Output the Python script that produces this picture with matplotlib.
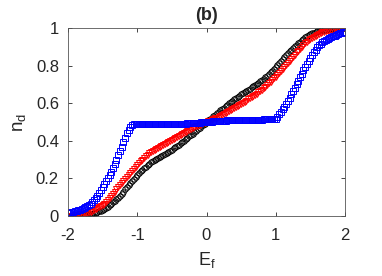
import numpy as np
import matplotlib
matplotlib.use("Agg")
import matplotlib.pyplot as plt

# x grid (E_f)
E_f = np.linspace(-2, 2, 161)

n_black = [
0.000,0.000,0.000,0.001,0.001,0.002,0.002,0.003,0.004,0.005,
0.006,0.008,0.009,0.011,0.013,0.016,0.018,0.022,0.025,0.029,
0.033,0.039,0.044,0.050,0.057,0.064,0.072,0.080,0.088,0.097,
0.108,0.119,0.130,0.142,0.154,0.165,0.175,0.186,0.197,0.208,
0.218,0.228,0.237,0.246,0.255,0.263,0.271,0.278,0.285,0.291,
0.296,0.302,0.307,0.312,0.318,0.323,0.328,0.334,0.340,0.347,
0.353,0.360,0.366,0.373,0.380,0.387,0.394,0.401,0.408,0.415,
0.423,0.430,0.438,0.446,0.453,0.461,0.469,0.477,0.484,0.492,
0.500,
0.508,0.516,0.523,0.531,0.539,0.547,0.554,0.562,0.570,0.577,
0.585,0.592,0.599,0.606,0.613,0.620,0.627,0.634,0.640,0.647,
0.653,0.660,0.666,0.672,0.678,0.684,0.691,0.697,0.703,0.710,
0.716,0.723,0.731,0.739,0.747,0.755,0.764,0.773,0.782,0.792,
0.802,0.813,0.824,0.835,0.845,0.856,0.866,0.876,0.885,0.894,
0.903,0.912,0.920,0.928,0.936,0.943,0.950,0.956,0.961,0.967,
0.971,0.975,0.978,0.982,0.984,0.987,0.989,0.991,0.992,0.994,
0.995,0.996,0.997,0.998,0.998,0.999,0.999,1.000,1.000,1.000,
]

n_red = [
0.000,0.001,0.001,0.002,0.003,0.004,0.006,0.008,0.010,0.012,
0.015,0.017,0.020,0.023,0.027,0.031,0.035,0.040,0.046,0.052,
0.058,0.065,0.074,0.083,0.094,0.106,0.118,0.130,0.141,0.153,
0.165,0.177,0.188,0.199,0.210,0.220,0.231,0.241,0.251,0.261,
0.271,0.281,0.290,0.299,0.308,0.317,0.325,0.333,0.341,0.347,
0.353,0.359,0.364,0.369,0.375,0.380,0.385,0.390,0.394,0.399,
0.403,0.408,0.414,0.419,0.425,0.431,0.437,0.442,0.448,0.453,
0.458,0.463,0.468,0.472,0.477,0.481,0.485,0.489,0.493,0.496,
0.500,
0.504,0.507,0.511,0.515,0.519,0.523,0.528,0.532,0.537,0.542,
0.547,0.552,0.558,0.563,0.569,0.575,0.581,0.586,0.592,0.598,
0.603,0.609,0.614,0.620,0.626,0.632,0.639,0.645,0.651,0.658,
0.665,0.672,0.680,0.688,0.696,0.705,0.714,0.723,0.732,0.742,
0.752,0.762,0.772,0.782,0.793,0.803,0.814,0.825,0.836,0.848,
0.859,0.870,0.880,0.890,0.900,0.910,0.919,0.927,0.935,0.942,
0.948,0.954,0.960,0.965,0.969,0.973,0.977,0.980,0.983,0.985,
0.988,0.990,0.992,0.994,0.996,0.997,0.998,0.999,0.999,1.000,
]

n_blue = [
0.015,0.017,0.019,0.021,0.024,0.027,0.030,0.033,0.036,0.041,
0.046,0.052,0.058,0.066,0.075,0.085,0.095,0.108,0.122,0.137,
0.152,0.168,0.184,0.200,0.216,0.236,0.257,0.278,0.300,0.322,
0.345,0.368,0.392,0.416,0.440,0.460,0.474,0.484,0.487,0.488,
0.488,0.488,0.488,0.488,0.488,0.488,0.488,0.488,0.488,0.488,
0.488,0.488,0.488,0.489,0.489,0.489,0.489,0.489,0.489,0.489,
0.489,0.489,0.489,0.490,0.490,0.491,0.491,0.492,0.492,0.493,
0.493,0.494,0.494,0.495,0.496,0.496,0.497,0.498,0.498,0.499,
0.500,
0.501,0.502,0.502,0.503,0.504,0.504,0.505,0.506,0.506,0.507,
0.507,0.508,0.508,0.509,0.509,0.510,0.510,0.510,0.510,0.510,
0.511,0.511,0.511,0.511,0.512,0.512,0.512,0.512,0.512,0.513,
0.513,0.513,0.514,0.514,0.514,0.515,0.515,0.516,0.517,0.518,
0.527,0.540,0.553,0.567,0.582,0.597,0.613,0.630,0.647,0.665,
0.683,0.701,0.720,0.739,0.757,0.775,0.793,0.810,0.827,0.843,
0.858,0.872,0.885,0.897,0.907,0.916,0.924,0.931,0.937,0.942,
0.947,0.951,0.955,0.959,0.963,0.967,0.971,0.974,0.977,0.980,
]

x_ticks = [-2, -1, 0, 1, 2]
x_ticklabels = ["-2", "-1", "0", "1", "2"]
y_ticks = [0, 0.2, 0.4, 0.6, 0.8, 1]
y_ticklabels = ["0", "0.2", "0.4", "0.6", "0.8", "1"]

plt.rcParams['font.family'] = ['Liberation Sans', 'DejaVu Sans']

fig = plt.figure(figsize=(3.82, 2.76), dpi=100)
ax = fig.add_axes([68/382, 60/276, 277/382, 188/276])

ax.plot(E_f, n_black, linestyle='none', marker='o', ms=3.9, mfc='none',
        mec='black', mew=0.7)
ax.plot(E_f, n_red, linestyle='none', marker='v', ms=4.1, mfc='none',
        mec='red', mew=0.7)
ax.plot(E_f, n_blue, linestyle='none', marker='s', ms=3.9, mfc='none',
        mec='blue', mew=0.7)

ax.set_xlim(-2, 2)
ax.set_ylim(0, 1)
ax.set_xticks(x_ticks)
ax.set_xticklabels(x_ticklabels)
ax.set_yticks(y_ticks)
ax.set_yticklabels(y_ticklabels)
ax.tick_params(direction='in', length=3, width=0.6, top=True, right=True,
               labelsize=12, colors='#262626')
ax.tick_params(axis='x', pad=8.5)
ax.tick_params(axis='y', pad=6.5)
for s in ax.spines.values():
    s.set_color('#555555')
    s.set_linewidth(0.6)

ax.set_xlabel('E$_\\mathregular{f}$', fontsize=13, color='#262626', labelpad=5)
ax.set_ylabel('n$_\\mathregular{d}$', fontsize=13.5, color='#262626', labelpad=5)
ax.set_title('(b)', fontsize=13, fontweight='bold', color='#262626', pad=6)

fig.savefig('out.png', dpi=100)
